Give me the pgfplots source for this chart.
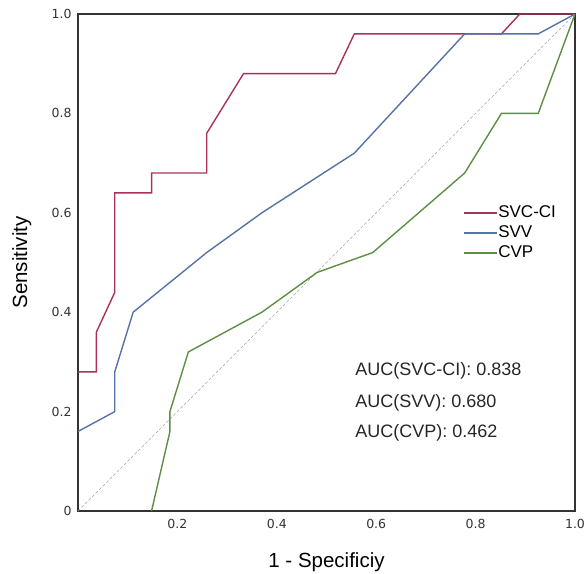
\documentclass[border=0pt]{standalone}
\usepackage{fontspec}
\setmainfont{Liberation Sans}
\newfontfamily\dejavu{DejaVu Sans}
\usepackage{pgfplots}
\pgfplotsset{compat=1.18}

\definecolor{svcci}{RGB}{168,50,92}
\definecolor{svv}{RGB}{86,114,166}
\definecolor{cvp}{RGB}{94,142,68}

\begin{document}
\begin{tikzpicture}
\begin{axis}[
    scale only axis,
    width=497pt,
    height=497pt,
    xmin=0, xmax=1,
    ymin=0, ymax=1,
    axis line style={draw=black!80, line width=1.3pt},
    major tick length=0pt,
    xtick={0.2,0.4,0.6,0.8,1.0},
    xticklabels={0.2,0.4,0.6,0.8,1.0},
    ytick={0,0.2,0.4,0.6,0.8,1.0},
    yticklabels={0,0.2,0.4,0.6,0.8,1.0},
    tick label style={font=\dejavu\fontsize{12.5}{14}\selectfont, text=black!80},
    xticklabel style={yshift=-5pt},
    yticklabel style={xshift=-3pt},
    xlabel={1 - Specificiy},
    ylabel={Sensitivity},
    label style={font=\fontsize{20.5}{22}\selectfont},
    xlabel style={at={(axis description cs:0.5,0)}, anchor=base, yshift=-56pt},
    ylabel style={at={(axis description cs:-0.1026,0.5)}, anchor=base},
    legend style={draw=none, fill=none, at={(0.768,0.622)}, anchor=north west,
        font=\fontsize{17}{19}\selectfont, row sep=2.5pt,
        nodes={inner sep=1pt, text height=12.2pt, text depth=3.3pt}},
    legend image code/.code={\draw[#1] (0pt,0pt) -- (33pt,0pt);},
    legend cell align=left,
]
\addplot[gray!70, densely dashed, line width=0.6pt, forget plot] coordinates {(0,0) (1,1)};

\addplot[svcci, line width=1.4pt] coordinates {
    (0,0.28) (0.037,0.28) (0.037,0.36) (0.074,0.44) (0.074,0.64)
    (0.148,0.64) (0.148,0.68) (0.259,0.68) (0.259,0.76) (0.333,0.88)
    (0.518,0.88) (0.556,0.96) (0.852,0.96) (0.889,1.0) (1,1)
};
\addplot[svv, line width=1.4pt] coordinates {
    (0,0.16) (0.074,0.20) (0.074,0.28) (0.111,0.40) (0.259,0.52)
    (0.370,0.60) (0.556,0.72) (0.778,0.96) (0.926,0.96) (1,1)
};
\addplot[cvp, line width=1.4pt] coordinates {
    (0.148,0) (0.185,0.16) (0.185,0.20) (0.222,0.32) (0.370,0.40)
    (0.481,0.48) (0.593,0.52) (0.778,0.68) (0.852,0.80) (0.926,0.80) (1,1)
};
\legend{SVC-CI,SVV,CVP}

\node[anchor=base west, font=\fontsize{18}{20}\selectfont, text=black!85] at (axis cs:0.551,0.272) {AUC(SVC-CI): 0.838};
\node[anchor=base west, font=\fontsize{18}{20}\selectfont, text=black!85] at (axis cs:0.551,0.209) {AUC(SVV): 0.680};
\node[anchor=base west, font=\fontsize{18}{20}\selectfont, text=black!85] at (axis cs:0.551,0.147) {AUC(CVP): 0.462};
\end{axis}
\pgfresetboundingbox
\path[use as bounding box] ([shift={(-78pt,-62pt)}]current axis.south west) rectangle ([shift={(11pt,14pt)}]current axis.north east);
\end{tikzpicture}
\end{document}
